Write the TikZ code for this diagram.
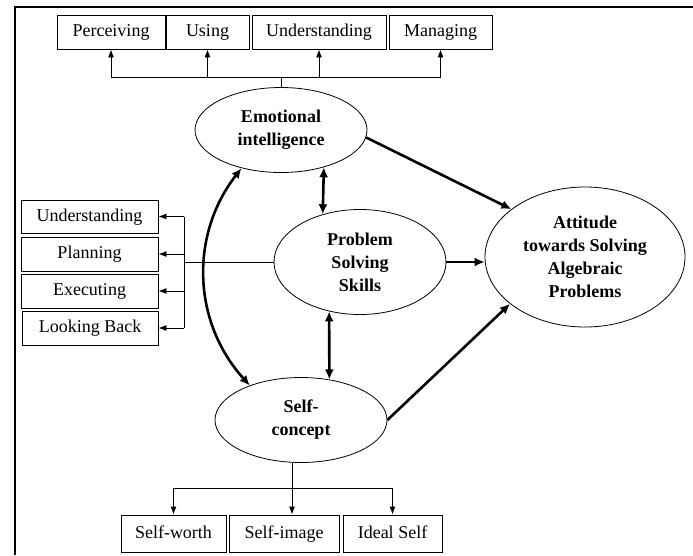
\documentclass[tikz,border=0pt]{standalone}
\usepackage{fontspec}
\setmainfont{Liberation Serif}
\usetikzlibrary{shapes.geometric,arrows.meta}
\begin{document}
\begin{tikzpicture}[x=1pt,y=-1pt]
		\tikzstyle{box}=[rectangle,draw,line width=0.9pt,inner sep=0,minimum height=34,text height=12.5,text depth=3.5,font=\fontsize{18}{20}\selectfont]
		\tikzstyle{var}=[ellipse,draw,line width=0.8pt,inner sep=0,align=center,font=\fontsize{18}{23}\selectfont\bfseries]
		\tikzstyle{link}=[line width=0.9pt]
		\tikzstyle{edge}=[-{Latex[length=8pt,width=6pt]},line width=0.9pt]
		\tikzstyle{path}=[-{Latex[length=10pt,width=9pt]},line width=2.6pt]
		\tikzstyle{both}=[{Latex[length=10pt,width=9pt]}-{Latex[length=10pt,width=9pt]},line width=2.6pt]
		
		\useasboundingbox (0,0) rectangle (693,555);
		\draw[line width=2.6pt] (15,555) -- (15,7) -- (693,7);
		
		\node [var, minimum width=172, minimum height=85]  (ei)  at (281, 130) {Emotional\\intelligence};
		\node [var, minimum width=172, minimum height=105] (ps)  at (360, 262) {Problem\\Solving\\Skills};
		\node [var, minimum width=172, minimum height=85]  (sc)  at (301, 420) {Self-\\concept};
		\node [var, minimum width=200, minimum height=140] (att) at (585, 257) {Attitude\\towards Solving\\Algebraic\\Problems};
		
		\node [box, minimum width=108] (perc)  at (111,   32) {Perceiving};
		\node [box, minimum width=83]  (using) at (207.5, 32) {Using};
		\node [box, minimum width=134] (und)   at (319,   32) {Understanding};
		\node [box, minimum width=103] (man)   at (440.5, 32) {Managing};
		
		\node [box, minimum width=137, minimum height=33] (pund)  at (89.5, 216.5) {Understanding};
		\node [box, minimum width=137] (plan)  at (89.5, 254) {Planning};
		\node [box, minimum width=137] (exec)  at (89.5, 291) {Executing};
		\node [box, minimum width=136] (back)  at (90,   328) {Looking Back};
		
		\node [box, minimum width=105, minimum height=37] (worth) at (173.5, 533.5) {Self-worth};
		\node [box, minimum width=110, minimum height=37] (image) at (284,   533.5) {Self-image};
		\node [box, minimum width=99,  minimum height=37] (ideal) at (392.5, 533.5) {Ideal Self};
		
		\coordinate (topbus) at (0, 77);
		\coordinate (leftbus) at (184, 0);
		\coordinate (botbus) at (292, 488);
		
		% emotional intelligence branches
		\draw[link] (ei.north) -- (ei.north |- topbus);
		\draw[link] (perc.south |- topbus) -- (man.south |- topbus);
		\foreach \b in {perc, using, und, man}
			\draw[edge] (\b.south |- topbus) -- (\b.south);
		
		% problem solving branches
		\draw[link] (ps.west) -- (ps.west -| leftbus);
		\draw[link] (pund.east -| leftbus) -- (back.east -| leftbus);
		\foreach \b in {pund, plan, exec, back}
			\draw[edge] (\b.east -| leftbus) -- (\b.east);
		
		% self-concept branches
		\draw[edge] (botbus |- sc.south) -- (botbus |- image.north);
		\draw[link] (worth.north |- botbus) -- (ideal.north |- botbus);
		\draw[edge] (worth.north |- botbus) -- (worth.north);
		\draw[edge] (ideal.north |- botbus) -- (ideal.north);
		
		% structural paths
		\draw[both] (ei.-41) -- (ps.128);
		\draw[both] (ps.238) -- (sc.55);
		\draw[both] (ei.224) to [bend right = 40] (sc.146);
		\draw[path] (ei.-5) -- (att.147);
		\draw[path] (ps.east) -- (ps.east -| att.west);
		\draw[path] (sc.east) -- (att.212);
	\end{tikzpicture}
\end{document}
